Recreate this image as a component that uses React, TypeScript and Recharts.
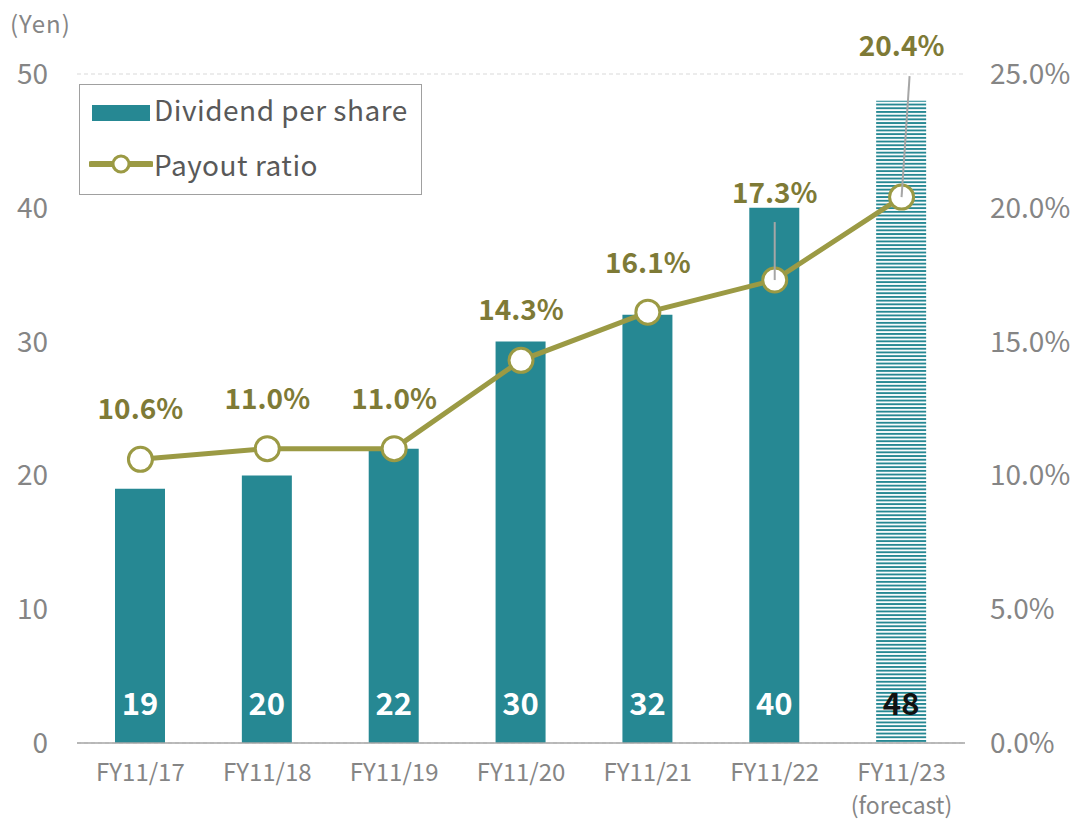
import React from "react";
import {
  ComposedChart,
  Bar,
  Line,
  XAxis,
  YAxis,
  CartesianGrid,
  Cell,
  LabelList,
} from "recharts";

const categories = ["FY11/17", "FY11/18", "FY11/19", "FY11/20", "FY11/21", "FY11/22", "FY11/23"];
const dividends = [19, 20, 22, 30, 32, 40, 48];
const payoutRatios = [10.6, 11.0, 11.0, 14.3, 16.1, 17.3, 20.4];
const yenTicks = [0, 10, 20, 30, 40, 50];
const ratioTicks = [0, 5, 10, 15, 20, 25];

const data = categories.map((name, i) => ({
  name,
  dividend: dividends[i],
  ratio: payoutRatios[i],
}));

const TEAL = "#268893";
const OLIVE = "#9b9a44";
const OLIVE_TEXT = "#7e7a36";
const GRAY_TEXT = "#858585";
const FONT = "'Noto Sans CJK JP', 'Noto Sans', sans-serif";

// label distance above the marker, per point
const labelLift = [52, 52, 52, 52, 51, 89, 153];

const XTick = (props: any) => {
  const { x, y, payload, index } = props;
  return (
    <g>
      <text x={x} y={y + 30} textAnchor="middle" fill={GRAY_TEXT} fontSize={24} fontFamily={FONT}>
        {payload.value}
      </text>
      {index === categories.length - 1 && (
        <text x={x} y={y + 63} textAnchor="middle" fill={GRAY_TEXT} fontSize={23} fontFamily={FONT}>
          (forecast)
        </text>
      )}
    </g>
  );
};

const RatioLabel = (props: any) => {
  const { x, y, value, index } = props;
  const lift = labelLift[index] ?? 52;
  return (
    <g>
      {index === 5 && <line x1={x} y1={y - 58} x2={x} y2={y} stroke="#a6a6a6" strokeWidth={2} />}
      {index === 6 && <line x1={x + 8} y1={y - 121} x2={x} y2={y} stroke="#a6a6a6" strokeWidth={2} />}
      <text
        x={x}
        y={y - lift}
        textAnchor="middle"
        dominantBaseline="central"
        fill={OLIVE_TEXT}
        fontSize={28}
        fontWeight="bold"
        fontFamily={FONT}
      >
        {value.toFixed(1)}%
      </text>
    </g>
  );
};

const BarValue = (props: any) => {
  const { x, y, width, height, value, index } = props;
  return (
    <text
      x={x + width / 2}
      y={y + height - 42}
      textAnchor="middle"
      dominantBaseline="central"
      fill={index === categories.length - 1 ? "#111" : "#fff"}
      fontSize={31}
      fontWeight="bold"
      fontFamily={FONT}
    >
      {value}
    </text>
  );
};

const LegendBox = () => (
  <div
    style={{
      position: "absolute",
      left: 79,
      top: 84,
      border: "1.5px solid #a0a0a0",
      width: 343,
      height: 111,
      boxSizing: "border-box",
      background: "#fff",
      fontFamily: FONT,
      fontSize: 28,
      color: "#595959",
    }}
  >
    <div style={{ position: "absolute", left: 12, top: 20, width: 58, height: 16, background: TEAL }} />
    <div style={{ position: "absolute", left: 74, top: 4, letterSpacing: 0.5 }}>Dividend per share</div>
    <svg style={{ position: "absolute", left: 9, top: 69 }} width={64} height={20}>
      <line x1={2} y1={10} x2={62} y2={10} stroke={OLIVE} strokeWidth={6} strokeLinecap="round" />
      <circle cx={32} cy={10} r={8} fill="#fff" stroke={OLIVE} strokeWidth={3} />
    </svg>
    <div style={{ position: "absolute", left: 74, top: 59, letterSpacing: 0.5 }}>Payout ratio</div>
  </div>
);

export default function App() {
  return (
    <div style={{ position: "absolute", left: 0, top: 0, width: 1077, height: 822, background: "#fff" }}>
      <ComposedChart
        width={1077}
        height={822}
        data={data}
        margin={{ top: 74, right: 0, bottom: 0, left: 0 }}
      >
        <defs>
          <pattern id="stripes" width={8} height={3.7} patternUnits="userSpaceOnUse">
            <rect x={0} y={0} width={8} height={1.9} fill={TEAL} />
          </pattern>
        </defs>
        <CartesianGrid vertical={false} stroke="#d9d9d9" strokeDasharray="4 3" />
        <XAxis
          dataKey="name"
          tick={<XTick />}
          tickLine={false}
          axisLine={{ stroke: "#a6a6a6", strokeWidth: 1.5 }}
          interval={0}
          height={79}
        />
        <YAxis
          yAxisId="left"
          domain={[0, 50]}
          ticks={yenTicks}
          width={77}
          axisLine={false}
          tickLine={false}
          tickSize={0}
          tickMargin={29}
          tick={{ fill: GRAY_TEXT, fontSize: 28, fontFamily: FONT }}
        />
        <YAxis
          yAxisId="right"
          orientation="right"
          domain={[0, 25]}
          ticks={ratioTicks}
          width={112}
          axisLine={false}
          tickLine={false}
          tickSize={0}
          tickMargin={25}
          tickFormatter={(v: number) => `${v.toFixed(1)}%`}
          tick={{ fill: GRAY_TEXT, fontSize: 28, fontFamily: FONT, textAnchor: "start" }}
        />
        <Bar yAxisId="left" dataKey="dividend" barSize={50} isAnimationActive={false}>
          {data.map((_, i) => (
            <Cell key={i} fill={i === data.length - 1 ? "url(#stripes)" : TEAL} />
          ))}
          <LabelList dataKey="dividend" content={<BarValue />} />
        </Bar>
        <Line
          yAxisId="right"
          dataKey="ratio"
          stroke={OLIVE}
          strokeWidth={5}
          dot={{ r: 12, fill: "#fff", stroke: OLIVE, strokeWidth: 3 }}
          activeDot={false}
          isAnimationActive={false}
        >
          <LabelList dataKey="ratio" content={<RatioLabel />} />
        </Line>
      </ComposedChart>
      <div
        style={{
          position: "absolute",
          left: 10,
          top: 5,
          fontFamily: FONT,
          fontSize: 24,
          letterSpacing: 1,
          color: GRAY_TEXT,
        }}
      >
        (Yen)
      </div>
      <LegendBox />
    </div>
  );
}
